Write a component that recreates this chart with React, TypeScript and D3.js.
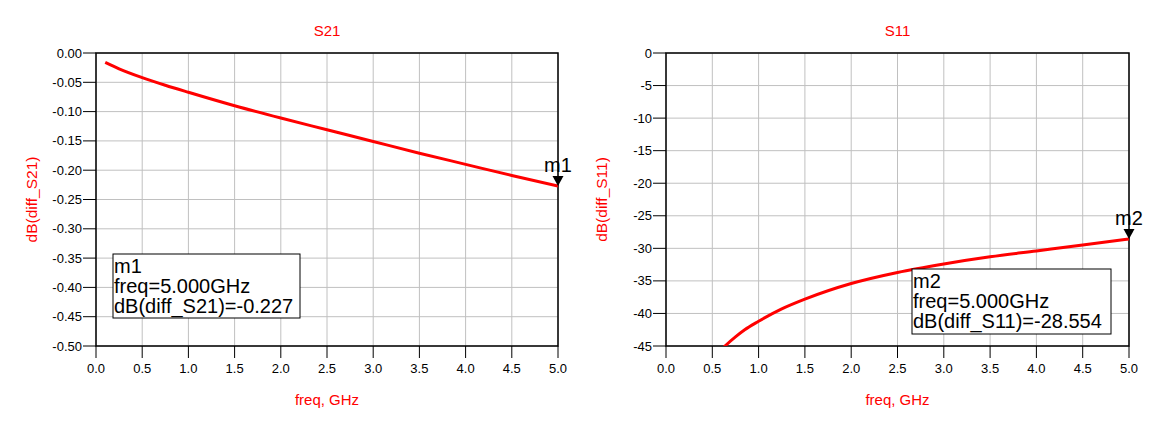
import React from "react";
import * as d3 from "d3";

const freqS21 = [0.1, 0.25, 0.5, 0.75, 1.0, 1.5, 2.0, 2.5, 3.0, 3.5, 4.0, 4.5, 5.0];
const dbS21 = [-0.016, -0.027, -0.042, -0.055, -0.067, -0.090, -0.111, -0.131, -0.151, -0.171, -0.190, -0.209, -0.227];

const freqS11 = [0.6, 0.637, 0.75, 0.85, 1.0, 1.25, 1.5, 2.0, 2.5, 3.0, 3.5, 4.0, 4.5, 5.0];
const dbS11 = [-45.5, -45.0, -43.6, -42.5, -41.2, -39.3, -37.8, -35.4, -33.7, -32.4, -31.3, -30.4, -29.5, -28.554];

const xTicks = [0, 0.5, 1.0, 1.5, 2.0, 2.5, 3.0, 3.5, 4.0, 4.5, 5.0];
const yTicksS21 = [0, -0.05, -0.1, -0.15, -0.2, -0.25, -0.3, -0.35, -0.4, -0.45, -0.5];
const yTicksS11 = [0, -5, -10, -15, -20, -25, -30, -35, -40, -45];

const FONT = "'Liberation Sans', Arial, sans-serif";
const RED = "#ff0000";

type PanelProps = {
  id: string;
  left: number;
  right: number;
  top: number;
  bottom: number;
  title: string;
  yLabel: string;
  freqs: number[];
  vals: number[];
  yDomain: [number, number];
  yTicks: number[];
  yFmt: (v: number) => string;
  marker: string;
  markerLabel: string[];
  box: { x: number; y: number; w: number; h: number };
};

function Panel(p: PanelProps) {
  const x = d3.scaleLinear().domain([0, 5]).range([p.left, p.right]);
  const y = d3.scaleLinear().domain(p.yDomain).range([p.bottom, p.top]);
  const line = d3
    .line<number>()
    .x((_, i) => x(p.freqs[i]))
    .y((d) => y(d))
    .curve(d3.curveMonotoneX);
  const lastF = p.freqs[p.freqs.length - 1];
  const lastV = p.vals[p.vals.length - 1];
  const mx = x(lastF);
  const my = y(lastV);
  const cx = (p.left + p.right) / 2;
  const cy = (p.top + p.bottom) / 2;
  return (
    <g>
      <defs>
        <clipPath id={p.id}>
          <rect x={p.left} y={p.top} width={p.right - p.left} height={p.bottom - p.top} />
        </clipPath>
      </defs>
      {xTicks.map((t) => (
        <line key={"gx" + t} x1={x(t)} x2={x(t)} y1={p.top} y2={p.bottom} stroke="#c0c0c0" strokeWidth={1} />
      ))}
      {p.yTicks.map((t) => (
        <line key={"gy" + t} x1={p.left} x2={p.right} y1={y(t)} y2={y(t)} stroke="#c0c0c0" strokeWidth={1} />
      ))}
      <rect x={p.left} y={p.top} width={p.right - p.left} height={p.bottom - p.top} fill="none" stroke="#000" strokeWidth={1.5} />
      {p.yTicks.map((t) => (
        <g key={"ty" + t}>
          <line x1={p.left - 13} x2={p.left} y1={y(t)} y2={y(t)} stroke="#000" strokeWidth={1} />
          <text x={p.left - 14} y={y(t) + 4.5} textAnchor="end" fontSize={13} fontFamily={FONT} fill="#000">
            {p.yFmt(t)}
          </text>
        </g>
      ))}
      {xTicks.map((t) => (
        <g key={"tx" + t}>
          <line x1={x(t)} x2={x(t)} y1={p.bottom} y2={p.bottom + 12} stroke="#000" strokeWidth={1} />
          <text x={x(t)} y={p.bottom + 27} textAnchor="middle" fontSize={13} fontFamily={FONT} fill="#000">
            {t.toFixed(1)}
          </text>
        </g>
      ))}
      <text x={cx} y={36} textAnchor="middle" fontSize={15} fontFamily={FONT} fill={RED}>
        {p.title}
      </text>
      <text x={cx} y={p.bottom + 59} textAnchor="middle" fontSize={15} fontFamily={FONT} fill={RED}>
        freq, GHz
      </text>
      <text
        transform={`translate(${p.left - 59},${cy}) rotate(-90)`}
        textAnchor="middle"
        fontSize={15.5}
        fontFamily={FONT}
        fill={RED}
      >
        {p.yLabel}
      </text>
      <path d={line(p.vals) || ""} fill="none" stroke={RED} strokeWidth={3} clipPath={`url(#${p.id})`} />
      <path d={`M${mx},${my} L${mx - 5.5},${my - 10} L${mx + 5.5},${my - 10} Z`} fill="#000" />
      <text x={mx} y={my - 14} textAnchor="middle" fontSize={20} fontFamily={FONT} fill="#000">
        {p.marker}
      </text>
      <rect x={p.box.x} y={p.box.y} width={p.box.w} height={p.box.h} fill="#fff" stroke="#000" strokeWidth={1} />
      {p.markerLabel.map((s, i) => (
        <text key={i} x={p.box.x + 1} y={p.box.y + 18.5 + i * 20} fontSize={20} fontFamily={FONT} fill="#000">
          {s}
        </text>
      ))}
    </g>
  );
}

export default function App() {
  return (
    <svg width={1156} height={427} style={{ position: "absolute", left: 0, top: 0, background: "#fff" }}>
      <rect width={1156} height={427} fill="#fff" />
      <Panel
        id="c1"
        left={96}
        right={558}
        top={53}
        bottom={346}
        title="S21"
        yLabel="dB(diff_S21)"
        freqs={freqS21}
        vals={dbS21}
        yDomain={[-0.5, 0]}
        yTicks={yTicksS21}
        yFmt={(v) => (v === 0 ? "0.00" : v.toFixed(2))}
        marker="m1"
        markerLabel={["m1", "freq=5.000GHz", "dB(diff_S21)=-0.227"]}
        box={{ x: 113, y: 254, w: 187, h: 64 }}
      />
      <Panel
        id="c2"
        left={666}
        right={1129}
        top={53}
        bottom={346}
        title="S11"
        yLabel="dB(diff_S11)"
        freqs={freqS11}
        vals={dbS11}
        yDomain={[-45, 0]}
        yTicks={yTicksS11}
        yFmt={(v) => String(v)}
        marker="m2"
        markerLabel={["m2", "freq=5.000GHz", "dB(diff_S11)=-28.554"]}
        box={{ x: 912, y: 269, w: 199, h: 65 }}
      />
    </svg>
  );
}
